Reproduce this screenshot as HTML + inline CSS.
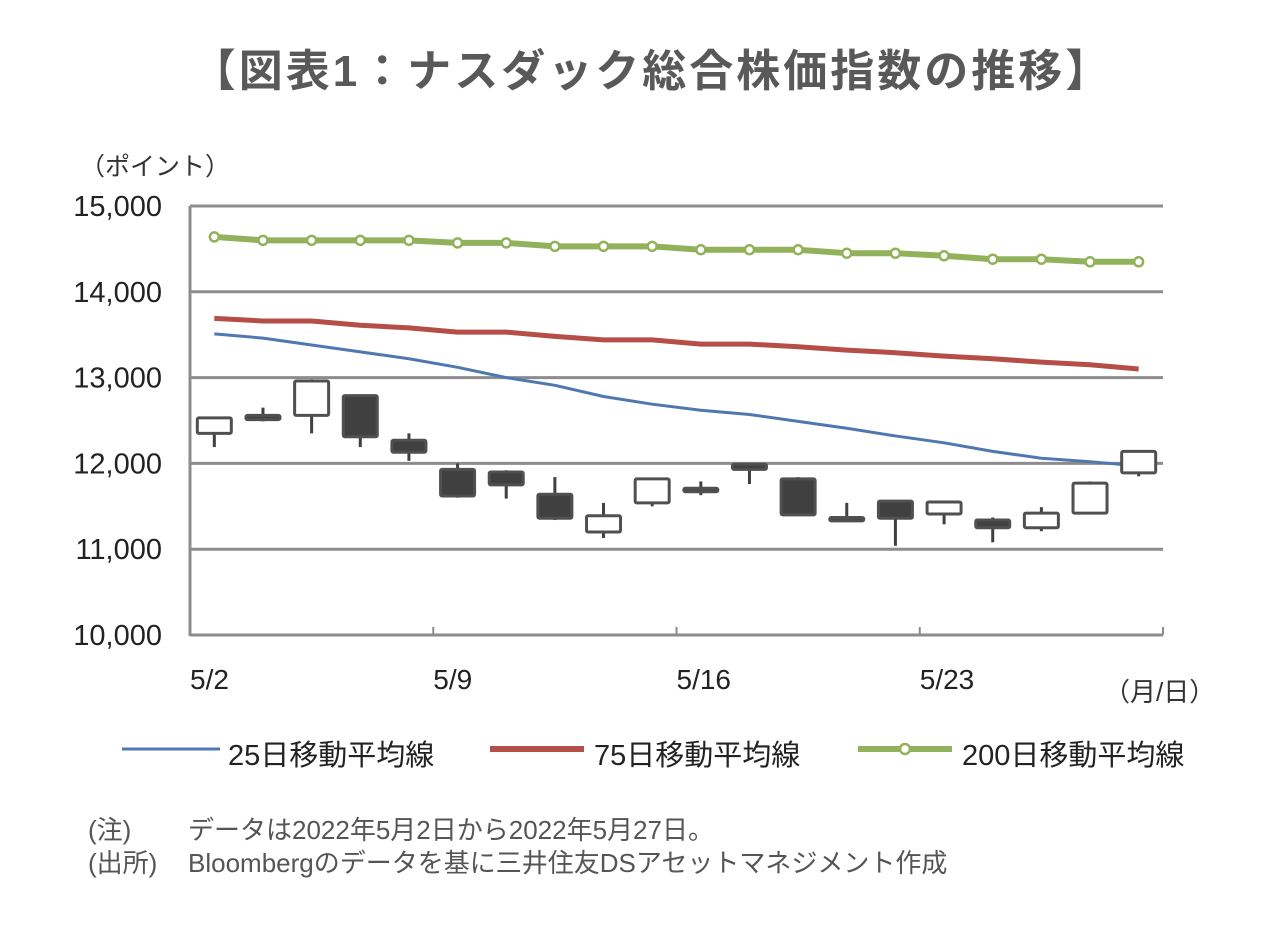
<!DOCTYPE html>
<html><head><meta charset="utf-8"><style>
body{margin:0;background:#fff;width:1280px;height:935px;overflow:hidden;font-family:"Liberation Sans","Noto Sans CJK JP",sans-serif}
</style></head><body>
<svg id="c" width="1280" height="935" xmlns="http://www.w3.org/2000/svg">
<text x="652" y="86" text-anchor="middle" font-size="44" font-weight="bold" fill="#595959" letter-spacing="3" font-family="Liberation Sans,Noto Sans CJK JP,sans-serif">【図表1：ナスダック総合株価指数の推移】</text>
<text x="80" y="175" font-size="25" fill="#333" font-family="Liberation Sans,Noto Sans CJK JP,sans-serif">（ポイント）</text>
<text x="1104" y="701" font-size="26" fill="#333" font-family="Liberation Sans,Noto Sans CJK JP,sans-serif">（月/日）</text>
<g id="grid"></g><g id="lines"></g><g id="candles"></g>
<g font-family="Liberation Sans,Noto Sans CJK JP,sans-serif" font-size="29" fill="#222">
<line x1="122" y1="749" x2="220" y2="749" stroke="#4f78b0" stroke-width="3"/>
<text x="228" y="765">25日移動平均線</text>
<line x1="490" y1="749" x2="584" y2="749" stroke="#b44e47" stroke-width="6"/>
<text x="594" y="765">75日移動平均線</text>
<line x1="858" y1="749" x2="952" y2="749" stroke="#91b25a" stroke-width="6"/>
<circle cx="905" cy="749" r="5" fill="#fff" stroke="#91b25a" stroke-width="2.5"/>
<text x="962" y="765">200日移動平均線</text>
</g>
<g font-family="Liberation Sans,Noto Sans CJK JP,sans-serif" font-size="26" fill="#555">
<text x="88" y="839">(注)</text>
<text x="188" y="839">データは2022年5月2日から2022年5月27日。</text>
<text x="88" y="872">(出所)</text>
<text x="188" y="872">Bloombergのデータを基に三井住友DSアセットマネジメント作成</text>
</g>
</svg>
<script>
const dates=["5/2","5/3","5/4","5/5","5/6","5/9","5/10","5/11","5/12","5/13","5/16","5/17","5/18","5/19","5/20","5/23","5/24","5/25","5/26","5/27"];
const openV=[12350,12560,12560,12790,12270,11930,11900,11640,11200,11540,11710,11990,11820,11370,11560,11410,11340,11250,11420,11890];
const closeV=[12530,12510,12960,12310,12130,11620,11750,11360,11390,11820,11670,11930,11400,11330,11360,11550,11250,11420,11770,12140];
const highV=[12530,12650,12980,12790,12350,12000,11920,11840,11540,11830,11790,11990,11840,11540,11560,11550,11370,11490,11790,12140];
const lowV=[12190,12490,12350,12190,12030,11600,11590,11340,11130,11500,11630,11760,11390,11330,11040,11290,11080,11210,11420,11850];
const ma25=[13510,13460,13380,13300,13220,13120,13000,12910,12780,12690,12620,12570,12490,12410,12320,12240,12140,12060,12020,11970];
const ma75=[13690,13660,13660,13610,13580,13530,13530,13480,13440,13440,13390,13390,13360,13320,13290,13250,13220,13180,13150,13100];
const ma200=[14640,14600,14600,14600,14600,14570,14570,14530,14530,14530,14490,14490,14490,14450,14450,14420,14380,14380,14350,14350];
const yTicks=[10000,11000,12000,13000,14000,15000];
const xTickLabels=["5/2","5/9","5/16","5/23"];
const NS="http://www.w3.org/2000/svg";
const X0=190,X1=1163,Y0=635,Y1=206,VMIN=10000,VMAX=15000;
const bw=(X1-X0)/dates.length;
const xs=i=>X0+bw*(i+0.5);
const ys=v=>Y0-(v-VMIN)/(VMAX-VMIN)*(Y0-Y1);
function mk(t,a,p){const e=document.createElementNS(NS,t);for(const k in a)e.setAttribute(k,a[k]);p.appendChild(e);return e;}
const grid=document.getElementById('grid'),lines=document.getElementById('lines'),cg=document.getElementById('candles');
yTicks.forEach(v=>{
 if(v>VMIN){const l=mk('line',{x1:X0,x2:X1,y1:ys(v),y2:ys(v),stroke:'#8c8c8c','stroke-width':3},grid);
 
 }
 const t=mk('text',{x:162,y:ys(v)+10,'text-anchor':'end','font-size':29,fill:'#222','font-family':'Liberation Sans,sans-serif'},grid);
 t.textContent=v.toLocaleString('en-US');
 
 
});
let ax=mk('line',{x1:X0,x2:X0,y1:Y1,y2:Y0+1,stroke:'#8c8c8c','stroke-width':3},grid);


ax=mk('line',{x1:X0,x2:X1,y1:Y0,y2:Y0,stroke:'#8c8c8c','stroke-width':3},grid);


for(let k=0;k<=dates.length;k+=5){const x=X0+k*bw;
 const tk=mk('line',{x1:x,x2:x,y1:Y0,y2:Y0-8,stroke:'#8c8c8c','stroke-width':2},grid);
 
 }
xTickLabels.forEach(lb=>{const i=dates.indexOf(lb);
 const t=mk('text',{x:X0+i*bw,y:689,'font-size':28,fill:'#222','font-family':'Liberation Sans,sans-serif'},grid);
 t.textContent=lb;
 
 });
function poly(arr,col,w,name){const p=mk('polyline',{points:arr.map((v,i)=>xs(i)+','+ys(v)).join(' '),fill:'none',stroke:col,'stroke-width':w,'stroke-linejoin':'round'},lines);
 
 }
poly(ma200,'#91b25a',6,'ma200-line');
ma200.forEach((v,i)=>{const c=mk('circle',{cx:xs(i),cy:ys(v),r:4.5,fill:'#fff',stroke:'#91b25a','stroke-width':2.5},lines);
 
 });
poly(ma75,'#b44e47',5,'ma75-line');
poly(ma25,'#4f78b0',3,'ma25-line');
dates.forEach((d,i)=>{const x=xs(i),up=closeV[i]>=openV[i];
 const g=mk('g',{},cg);
 
 
 mk('line',{x1:x,x2:x,y1:ys(highV[i]),y2:ys(lowV[i]),stroke:'#404040','stroke-width':3},g);
 const top=ys(Math.max(openV[i],closeV[i])),bot=ys(Math.min(openV[i],closeV[i]));
 mk('rect',{x:x-17,y:top,width:34,height:Math.max(bot-top,3),fill:up?'#fff':'#404040',stroke:'#505050','stroke-width':3,rx:1.5},g);
});
</script>
</body></html>
